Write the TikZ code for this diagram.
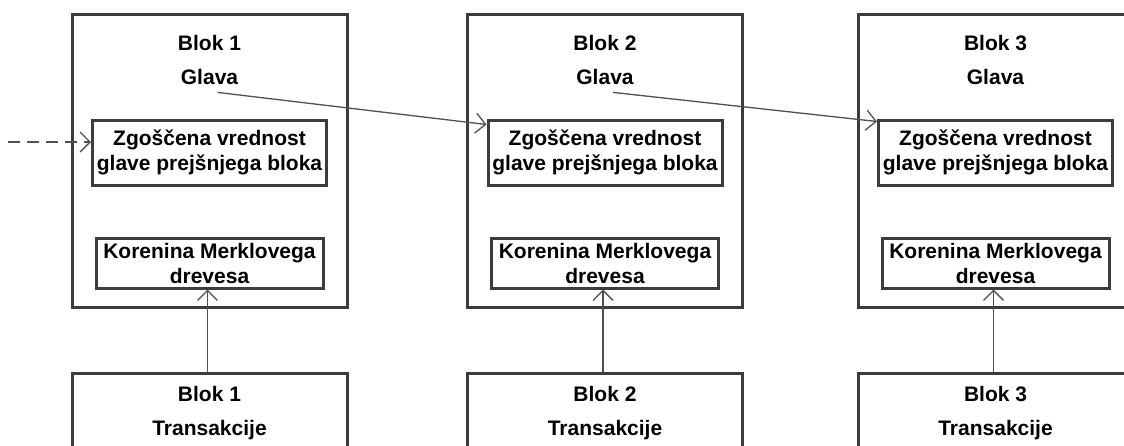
\documentclass[tikz,border=0pt]{standalone}
\usepackage{fontspec}
\setmainfont{Liberation Sans}
\usetikzlibrary{arrows.meta,calc}
\definecolor{edge}{HTML}{3C3C3C}
\definecolor{wire}{HTML}{505050}

\begin{document}
\begin{tikzpicture}[x=1pt,y=-1pt,
  txt/.style={font=\fontsize{21}{25}\selectfont\bfseries, text=black, inner sep=0pt},
  blockbox/.style={draw=edge, line width=3pt, minimum width=275pt, inner sep=0pt},
  fieldbox/.style={draw=edge, line width=3pt, inner sep=0pt, align=center, txt},
  link/.style={draw=wire, line width=1.3pt,
    -{Straight Barb[length=10pt,width=20pt,line width=1.3pt]}},
  prevlink/.style={link, dash pattern=on 12pt off 7pt},
]
\useasboundingbox (0,0) rectangle (1124,445);
\clip (0,0) rectangle (1124,445);

\foreach \i/\cx in {1/209.5, 2/605, 3/995.5} {
  % block header with its two fields
  \node[blockbox, minimum height=293pt] (b\i) at (\cx,160.5) {};
  \node[txt, anchor=base] (n\i) at (\cx,50.5) {Blok \i};
  \node[txt, anchor=base] (g\i) at (\cx,84) {Glava};
  \node[fieldbox, minimum width=234pt, minimum height=65pt] (h\i) at (\cx,152.5)
    {Zgoščena vrednost\\glave prejšnjega bloka};
  \node[fieldbox, minimum width=227pt, minimum height=50pt] (m\i) at (\cx,263)
    {Korenina Merklovega\\drevesa};
  % transactions of the block
  \node[blockbox, minimum height=140pt] (t\i) at (\cx,443) {};
  \node[txt, anchor=base] (tn\i) at (\cx,401.5) {Blok \i};
  \node[txt, anchor=base] (tt\i) at (\cx,435) {Transakcije};
  \draw[link] ([xshift=-2pt]t\i.north) -- ([xshift=-2pt]m\i.south);
}

% link from the earlier chain
\coordinate (prev) at (8,142);
\draw[prevlink] (prev) -- (h1.west |- prev);

% header of each block points to the hash field of the next one
\draw[link] ([xshift=8pt,yshift=-8pt]g1.south) -- ([yshift=-6pt]h2.north west);
\draw[link] ([xshift=8pt,yshift=-8pt]g2.south) -- ([yshift=-3pt]h3.north west);
\end{tikzpicture}
\end{document}
